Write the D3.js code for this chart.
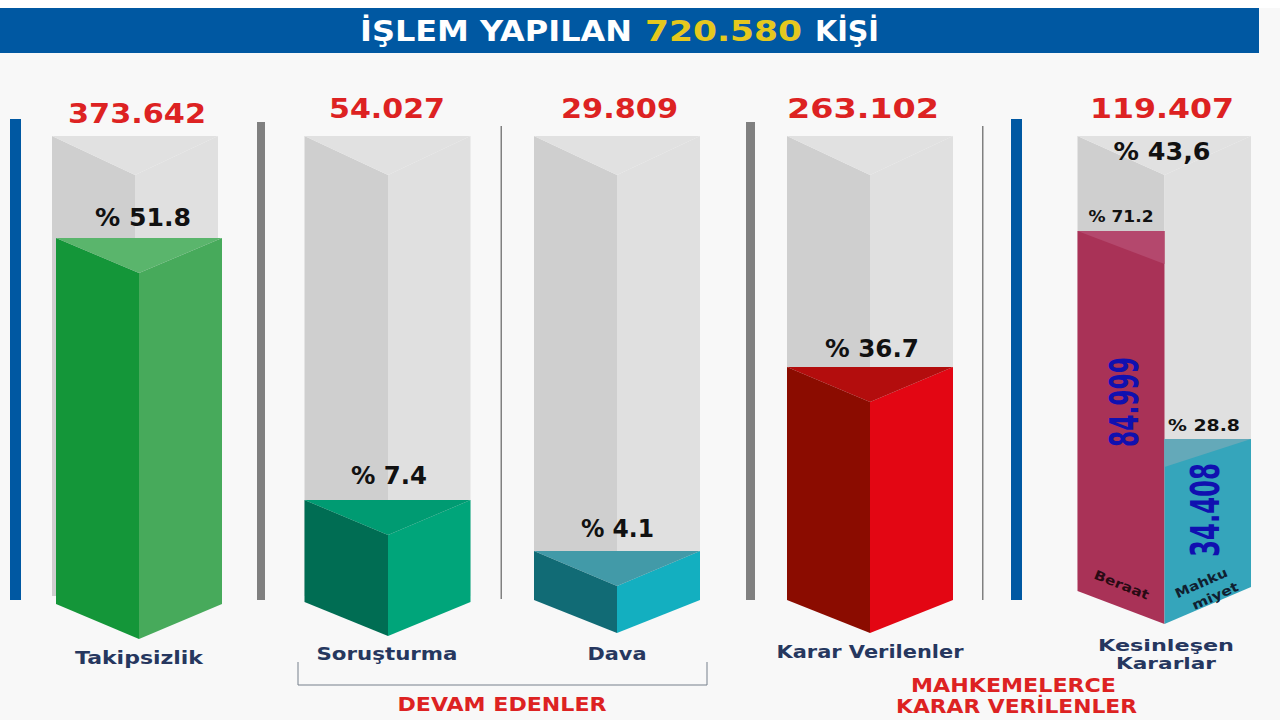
<!DOCTYPE html>
<html>
<head>
<meta charset="utf-8">
<script src="https://cdn.jsdelivr.net/npm/d3@7"></script>
<style>
  html, body { margin: 0; padding: 0; background: #f8f8f8; }
  svg { display: block; }
  text { font-family: "DejaVu Sans", sans-serif; font-weight: bold; }
</style>
</head>
<body>
<svg id="chart" width="1280" height="720"></svg>
<script>
// values
var totalPeople = 720580;
var categories = ["Takipsizlik", "Soruşturma", "Dava", "Karar Verilenler"];
var counts = [373642, 54027, 29809, 263102];
var shares = [51.8, 7.4, 4.1, 36.7];

var finalCategory = "Kesinleşen Kararlar";
var finalCount = 119407;
var finalShare = 43.6;
var finalParts = ["Beraat", "Mahkumiyet"];
var finalPartCounts = [84999, 34408];
var finalPartShares = [71.2, 28.8];

var svg = d3.select("#chart");
var fmt = d3.formatLocale({decimal: ",", thousands: ".", grouping: [3], currency: ["", ""]}).format(",d");
var pct = function(v) { return "% " + d3.format(".1f")(v); };

// the picture's bars are not to a single linear scale, so the scale bends through them
var y = d3.scaleLinear().domain([4.1, 7.4, 36.7, 51.8]).range([551, 500, 367, 238]);
var yFinal = d3.scaleLinear().domain([28.8, 71.2]).range([439, 231]);

var navy = "#26375f", red = "#dd2222";

function poly(pts, fill) {
  svg.append("polygon").attr("points", pts.map(function(p) { return p.join(","); }).join(" ")).attr("fill", fill);
}

// width is forced so the text takes up the same run as the lettering in the picture
function label(txt, x, yy, size, fill, width) {
  var t = svg.append("text").attr("x", x).attr("y", yy).attr("text-anchor", "middle")
    .attr("font-size", size).attr("fill", fill).text(txt);
  if (width) t.attr("textLength", width).attr("lengthAdjust", "spacingAndGlyphs");
  return t;
}

// header band
svg.append("rect").attr("width", 1280).attr("height", 8).attr("fill", "#ffffff");
svg.append("rect").attr("y", 8).attr("width", 1259).attr("height", 45).attr("fill", "#0058a2");
label("İŞLEM YAPILAN", 496, 41, 28, "#ffffff", 272);
label(fmt(totalPeople), 723.5, 41, 28, "#e5c81e", 157);
label("KİŞİ", 847, 41, 28, "#ffffff", 64);

// separators
[[10, 11, 119, 481, "#0058a2"], [257, 8, 122, 478, "#808080"], [500.5, 1.5, 126, 473, "#808080"],
 [746, 9, 122, 478, "#808080"], [982, 1.5, 126, 474, "#808080"], [1011, 11, 119, 481, "#0058a2"]]
  .forEach(function(s) {
    svg.append("rect").attr("x", s[0]).attr("width", s[1]).attr("y", s[2]).attr("height", s[3]).attr("fill", s[4]);
  });

// empty column behind a bar
function ghost(x0, x1, x2, bottom) {
  poly([[x0, 136], [x1, 175], [x1, bottom], [x0, bottom]], "#cfcfcf");
  poly([[x1, 175], [x2, 136], [x2, bottom], [x1, bottom]], "#e0e0e0");
  poly([[x0, 136], [x2, 136], [x1, 175]], "#e1e1e1");
}

var layout = [
  {x: [56, 139, 222], ghost: [52, 135, 218], side: 604, apex: 639, colors: ["#149639", "#47aa5b", "#5ab56c"], totalX: 137, totalY: 123, totalW: 138, pctX: 143, pctY: 226, pctW: 96, nameX: 139, nameY: 664, nameW: 128},
  {x: [304.5, 388, 470.5], ghost: [304.5, 388, 470.5], side: 602, apex: 636, colors: ["#006d53", "#00a57a", "#009b72"], totalX: 387, totalY: 118, totalW: 116, pctX: 389, pctY: 484, pctW: 76, nameX: 387, nameY: 660, nameW: 141},
  {x: [534, 617, 700], ghost: [534, 617, 700], side: 600, apex: 633, colors: ["#116b75", "#13afc0", "#429aa8"], totalX: 619.5, totalY: 118, totalW: 117, pctX: 617.5, pctY: 537, pctW: 73, nameX: 617, nameY: 660, nameW: 59},
  {x: [787, 870, 953], ghost: [787, 870, 953], side: 600, apex: 633, colors: ["#8b0c00", "#e30613", "#b30d0d"], totalX: 863, totalY: 118, totalW: 152, pctX: 872, pctY: 357, pctW: 94, nameX: 870, nameY: 658, nameW: 187}
];

categories.forEach(function(name, i) {
  var l = layout[i], top = y(shares[i]), front = top + 35;
  ghost(l.ghost[0], l.ghost[1], l.ghost[2], 596);
  poly([[l.x[0], top], [l.x[1], front], [l.x[1], l.apex], [l.x[0], l.side]], l.colors[0]);
  poly([[l.x[1], front], [l.x[2], top], [l.x[2], l.side], [l.x[1], l.apex]], l.colors[1]);
  poly([[l.x[0], top], [l.x[2], top], [l.x[1], front]], l.colors[2]);
  label(fmt(counts[i]), l.totalX, l.totalY, 27, red, l.totalW);
  label(pct(shares[i]), l.pctX, l.pctY, 24, "#111111", l.pctW);
  label(name, l.nameX, l.nameY, 18, navy, l.nameW);
});

// last column, split in two
var fx = [1077.5, 1164.5, 1251];
ghost(fx[0], fx[1], fx[2], 580);
var fTopL = yFinal(finalPartShares[0]), fTopR = yFinal(finalPartShares[1]);
poly([[fx[0], fTopL], [fx[1], fTopL], [fx[1], 624], [fx[0], 591]], "#a93257");
poly([[fx[0], fTopL], [fx[1], fTopL], [fx[1], fTopL + 33]], "#b4486d");
poly([[fx[1], fTopR], [fx[2], fTopR], [fx[2], 587], [fx[1], 624]], "#35a5bb");
poly([[fx[1], fTopR], [fx[2], fTopR], [fx[1], fTopR + 28]], "#64a9b9");

label(fmt(finalCount), 1162, 118, 27, red, 144);
label("% " + d3.format(".1f")(finalShare).replace(".", ","), 1162, 160, 24, "#111111", 97);
label(pct(finalPartShares[0]), 1121, 222, 15, "#111111", 65);
label(pct(finalPartShares[1]), 1204, 431, 15, "#111111", 72);

// counts run up the faces
label(fmt(finalPartCounts[0]), 0, 0, 39, "#1010b0", 90).attr("transform", "translate(1138,402) rotate(-90)");
label(fmt(finalPartCounts[1]), 0, 0, 39, "#1010b0", 94).attr("transform", "translate(1219,510) rotate(-90)");

label(finalParts[0], 0, 0, 13, "#2a0a14", 58).attr("transform", "translate(1120,589) rotate(22)");
label(finalParts[1].slice(0, 5), 0, 0, 13, "#102030", 56).attr("transform", "translate(1203,587) rotate(-24)");
label(finalParts[1].slice(5), 0, 0, 13, "#102030", 49).attr("transform", "translate(1217,600) rotate(-24)");

label(finalCategory.split(" ")[0], 1166, 651, 15, navy, 136);
label(finalCategory.split(" ")[1], 1166, 669, 15, navy, 100);

// bracket and group captions
svg.append("path").attr("d", "M298,662V685H707V662").attr("fill", "none").attr("stroke", "#77808c").attr("stroke-width", 1);
label("DEVAM EDENLER", 502, 711, 19, red, 209);
label("MAHKEMELERCE", 1013.5, 692, 19, red, 205);
label("KARAR VERİLENLER", 1016.5, 713, 19, red, 241);
</script>
</body>
</html>
